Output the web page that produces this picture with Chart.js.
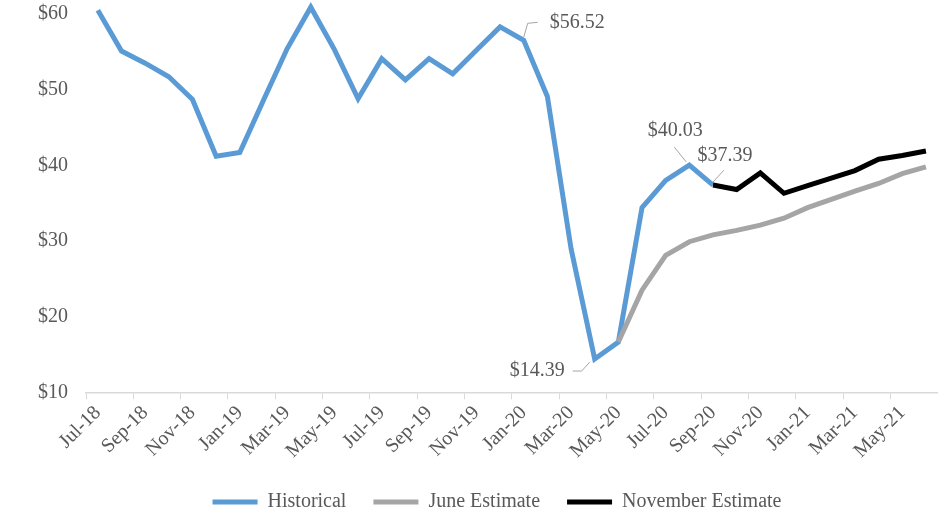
<!DOCTYPE html>
<html><head><meta charset="utf-8">
<script src="https://cdn.jsdelivr.net/npm/chart.js@4"></script>
<style>html,body{margin:0;padding:0;background:#fff}canvas{display:block}</style>
</head><body>
<canvas id="c" width="945" height="513"></canvas>
<script>
const months = ['Jul-18','Aug-18','Sep-18','Oct-18','Nov-18','Dec-18','Jan-19','Feb-19','Mar-19','Apr-19','May-19','Jun-19',
  'Jul-19','Aug-19','Sep-19','Oct-19','Nov-19','Dec-19','Jan-20','Feb-20','Mar-20','Apr-20','May-20','Jun-20',
  'Jul-20','Aug-20','Sep-20','Oct-20','Nov-20','Dec-20','Jan-21','Feb-21','Mar-21','Apr-21','May-21','Jun-21'];
const historical = [60.5,55.1,53.5,51.7,48.7,41.2,41.7,48.6,55.4,60.9,55.3,48.8,
  54.1,51.3,54.1,52.1,55.2,58.3,56.52,49.1,29.0,14.39,16.65,34.4,
  38.0,40.03,37.39,null,null,null,null,null,null,null,null,null];
const juneEstimate = [null,null,null,null,null,null,null,null,null,null,null,null,
  null,null,null,null,null,null,null,null,null,null,16.65,23.5,
  28.1,29.9,30.8,31.4,32.1,33.0,34.4,35.5,36.6,37.6,38.9,39.8];
const novemberEstimate = [null,null,null,null,null,null,null,null,null,null,null,null,
  null,null,null,null,null,null,null,null,null,null,null,null,
  null,null,37.39,36.8,39.0,36.3,37.3,38.3,39.3,40.8,41.3,41.9];
const seriesNames = ['Historical','June Estimate','November Estimate'];
const yTicks = [10,20,30,40,50,60];
const calloutIdx = [18,21,25,26];

const FONT = "'Liberation Serif','Times New Roman',serif";
const TXT = '#595959';

const callouts = {
  id: 'callouts',
  afterInit(chart) {
    const lg = chart.legend;
    if (lg) {
      const f = lg.fit;
      lg.fit = function() { f.call(this); this.height -= 11; };
      const d = lg.draw;
      lg.draw = function() { const c = this.ctx; c.save(); c.translate(28, 0); d.call(this); c.restore(); };
    }
  },
  afterDatasetsDraw(chart) {
    const meta = chart.getDatasetMeta(0);
    const ctx = chart.ctx;
    const geo = {
      18: {lead: [[0,-3],[4,-17],[14,-18]], tx: 26, ty: -18, align: 'left'},
      21: {lead: [[-5,3],[-13,12],[-22,12]], tx: -30, ty: 12, align: 'right'},
      25: {lead: [[-3,-3],[-15,-18]], tx: -14, ty: -34, align: 'center'},
      26: {lead: [[0,-3],[11,-15]], tx: 12, ty: -29, align: 'center'}
    };
    ctx.save();
    calloutIdx.forEach(i => {
      const p = meta.data[i];
      const g = geo[i];
      ctx.strokeStyle = '#a6a6a6';
      ctx.lineWidth = 1;
      ctx.beginPath();
      g.lead.forEach((o, k) => { const x = p.x + o[0], y = p.y + o[1]; k ? ctx.lineTo(x, y) : ctx.moveTo(x, y); });
      ctx.stroke();
      ctx.fillStyle = TXT;
      ctx.font = '20px ' + FONT;
      ctx.textAlign = g.align;
      ctx.textBaseline = 'middle';
      ctx.fillText('$' + historical[i].toFixed(2), p.x + g.tx, p.y + g.ty);
    });
    ctx.restore();
  }
};

new Chart(document.getElementById('c'), {
  type: 'line',
  data: {
    labels: months,
    datasets: [
      {label: seriesNames[0], data: historical, borderColor: '#5b9bd5', backgroundColor: '#5b9bd5', order: 2},
      {label: seriesNames[1], data: juneEstimate, borderColor: '#a5a5a5', backgroundColor: '#a5a5a5', order: 1},
      {label: seriesNames[2], data: novemberEstimate, borderColor: '#000000', backgroundColor: '#000000', order: 0}
    ]
  },
  options: {
    responsive: false,
    animation: false,
    devicePixelRatio: 1,
    datasets: {line: {borderWidth: 5, pointRadius: 0, tension: 0, clip: false, spanGaps: false, borderJoinStyle: 'miter'}},
    layout: {padding: {top: 0, right: 7, left: 0, bottom: 2}},
    scales: {
      x: {
        offset: true,
        grid: {offset: true, drawOnChartArea: false, tickLength: 7, lineWidth: 1,
          color: c => (c.index % 2 === 0 ? '#d9d9d9' : 'rgba(0,0,0,0)')},
        border: {color: '#d9d9d9', width: 1.5},
        ticks: {autoSkip: false, maxRotation: 45, minRotation: 45, padding: 2,
          font: {family: FONT, size: 20}, color: TXT,
          callback: function(v, i) { return i % 2 === 0 ? months[i] : ''; }}
      },
      y: {
        min: 10, max: 60,
        afterBuildTicks: s => { s.ticks = yTicks.map(v => ({value: v})); },
        afterFit: s => { s.width = 86; },
        grid: {display: false, drawTicks: true, tickLength: 16},
        border: {display: false},
        ticks: {padding: 2, font: {family: FONT, size: 20}, color: TXT, callback: v => '$' + v}
      }
    },
    plugins: {
      tooltip: {enabled: false},
      legend: {
        position: 'bottom',
        labels: {
          font: {family: FONT, size: 20}, color: TXT, boxWidth: 45, boxHeight: 5, padding: 27,
          sort: (a, b) => a.datasetIndex - b.datasetIndex,
          generateLabels: chart => Chart.defaults.plugins.legend.labels.generateLabels(chart).map(it => Object.assign(it, {fillStyle: it.strokeStyle, lineWidth: 0}))
        }
      }
    }
  },
  plugins: [callouts]
});
</script>
</body></html>
